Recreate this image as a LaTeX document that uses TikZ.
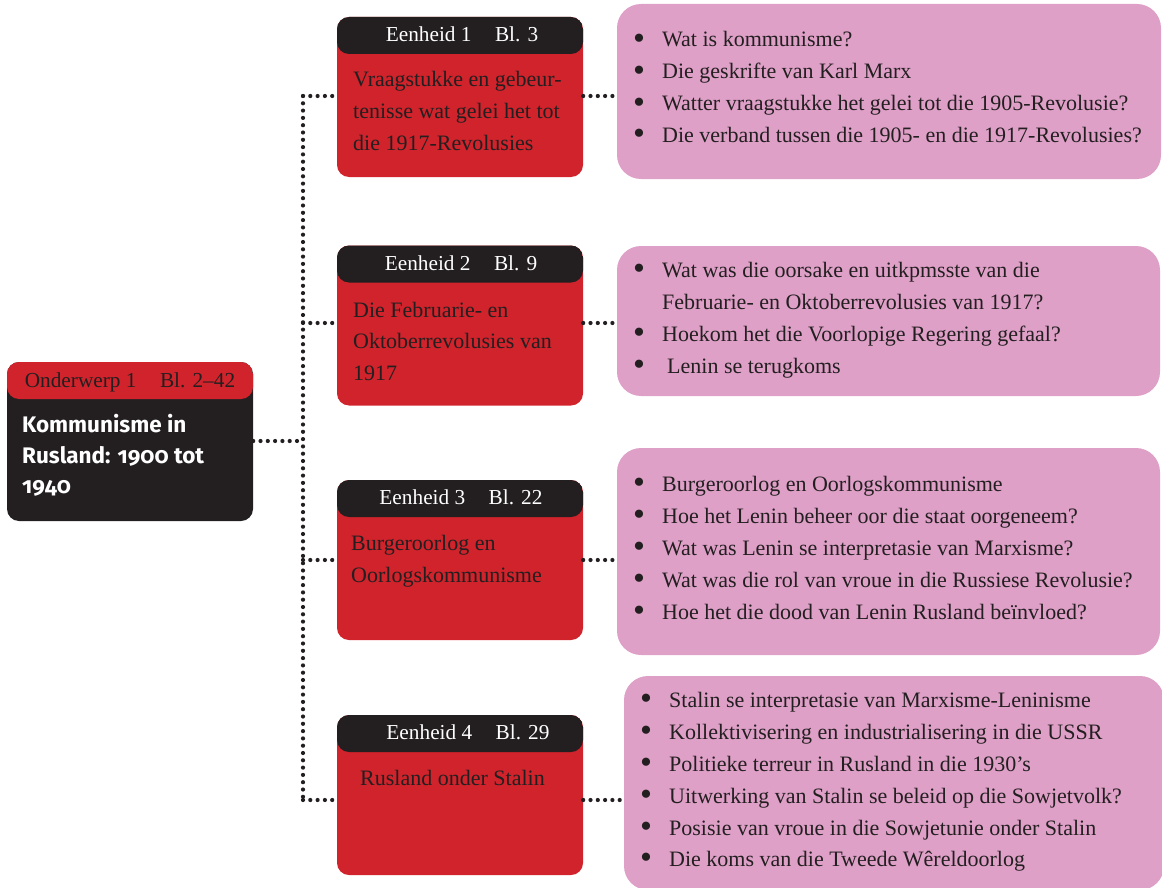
\documentclass[tikz,border=0pt]{standalone}
\usepackage{fontspec}
\usepackage{graphicx}
\setmainfont{Liberation Serif}
\newfontfamily\sansb{Fira Sans}[Numbers=OldStyle]
\usetikzlibrary{calc}
\definecolor{cred}{HTML}{D0232B}
\definecolor{cblack}{HTML}{231F20}
\definecolor{cpink}{HTML}{DFA0C8}
\newcommand\bul{\makebox[29pt][l]{\smash{\raisebox{-0.13em}{\scalebox{1.55}{\textbullet}}}}}
\begin{document}
\begin{tikzpicture}[x=1pt,y=-1pt,
  txt/.style={font=\fontsize{22}{22}\selectfont, text=cblack, inner sep=0pt, anchor=base west},
  head/.style={font=\fontsize{21.3}{21.3}\selectfont, inner sep=0pt, anchor=base},
  stxt/.style={txt, text=white, font=\sansb\bfseries\fontsize{22.5}{22.5}\selectfont},
  ubox/.style={fill=cred, rounded corners=12pt, minimum width=246pt, minimum height=160pt, inner sep=0pt,
    path picture={\fill[cblack] (path picture bounding box.north west) rectangle ([yshift=-37pt]path picture bounding box.north east);}},
  tbox/.style={fill=cblack, rounded corners=12pt, minimum width=246pt, minimum height=159pt, inner sep=0pt,
    path picture={\fill[cred] (path picture bounding box.north west) rectangle ([yshift=-37pt]path picture bounding box.north east);}},
  pbox/.style={fill=cpink, rounded corners=24pt, inner sep=0pt},
  dots/.style={draw=cblack, line width=4.2pt, line cap=round, dash pattern=on 0pt off 7.3pt}]
\useasboundingbox (0,0) rectangle (1162,888);

% main topic box
\node[tbox] (t) at (130,441.5) {};
\node[head, text=cblack] (th) at (130,387) {Onderwerp 1\hspace{1.1em}Bl. 2--42};
\node[stxt] (t1) at (22,432) {Kommunisme in};
\node[stxt] (t2) at (22,463) {Rusland: 1900 tot};
\node[stxt] (t3) at (22,493) {1940};

% unit boxes
\node[ubox] (e1) at (460,97) {};
\node[ubox] (e2) at (460,325.5) {};
\node[ubox] (e3) at (460,560) {};
\node[ubox] (e4) at (460,795) {};
\node[head, text=white] (h1) at (462,42) {Eenheid 1\hspace{1.1em}Bl. 3};
\node[head, text=white] (h2) at (461,270) {Eenheid 2\hspace{1.1em}Bl. 9};
\node[head, text=white] (h3) at (461,504) {Eenheid 3\hspace{1.1em}Bl. 22};
\node[head, text=white] (h4) at (468,739) {Eenheid 4\hspace{1.1em}Bl. 29};

\node[txt] (e1a) at (353,87) {Vraagstukke en gebeur-};
\node[txt] (e1b) at (353,119) {tenisse wat gelei het tot};
\node[txt] (e1c) at (353,150) {die 1917-Revolusies};
\node[txt] (e2a) at (353,317) {Die Februarie- en};
\node[txt] (e2b) at (353,348) {Oktoberrevolusies van};
\node[txt] (e2c) at (353,380) {1917};
\node[txt] (e3a) at (351,550) {Burgeroorlog en};
\node[txt] (e3b) at (351,582) {Oorlogskommunisme};
\node[txt] (e4a) at (360,785) {Rusland onder Stalin};

% pink boxes
\node[pbox, minimum width=544pt, minimum height=175pt] (p1) at (889,91.5) {};
\node[pbox, minimum width=543pt, minimum height=150pt] (p2) at (888.5,321) {};
\node[pbox, minimum width=543pt, minimum height=207pt] (p3) at (888.5,551.5) {};
\node[pbox, minimum width=540pt, minimum height=214pt] (p4) at (894,783) {};

\node[txt] (p1a) at (633,47) {\bul Wat is kommunisme?};
\node[txt] (p1b) at (633,78.7) {\bul Die geskrifte van Karl Marx};
\node[txt] (p1c) at (633,110.4) {\bul Watter vraagstukke het gelei tot die 1905-Revolusie?};
\node[txt] (p1d) at (633,142.1) {\bul Die verband tussen die 1905- en die 1917-Revolusies?};

\node[txt] (p2a) at (633,277) {\bul Wat was die oorsake en uitkpmsste van die};
\node[txt] (p2b) at (662,309) {Februarie- en Oktoberrevolusies van 1917?};
\node[txt] (p2c) at (633,341) {\bul Hoekom het die Voorlopige Regering gefaal?};
\node[txt] (p2d) at (633,373) {\bul\hspace{5pt}Lenin se terugkoms};

\node[txt] (p3a) at (633,491) {\bul Burgeroorlog en Oorlogskommunisme};
\node[txt] (p3b) at (633,523) {\bul Hoe het Lenin beheer oor die staat oorgeneem?};
\node[txt] (p3c) at (633,555) {\bul Wat was Lenin se interpretasie van Marxisme?};
\node[txt] (p3d) at (633,587) {\bul Wat was die rol van vroue in die Russiese Revolusie?};
\node[txt] (p3e) at (633,619) {\bul Hoe het die dood van Lenin Rusland beïnvloed?};

\node[txt] (p4a) at (640,707) {\bul Stalin se interpretasie van Marxisme-Leninisme};
\node[txt] (p4b) at (640,739) {\bul Kollektivisering en industrialisering in die USSR};
\node[txt] (p4c) at (640,771) {\bul Politieke terreur in Rusland in die 1930’s};
\node[txt] (p4d) at (640,803) {\bul Uitwerking van Stalin se beleid op die Sowjetvolk?};
\node[txt] (p4e) at (640,835) {\bul Posisie van vroue in die Sowjetunie onder Stalin};
\node[txt] (p4f) at (640,866) {\bul Die koms van die Tweede Wêreldoorlog};

% connectors
\coordinate (c0) at (303,441);
\coordinate (c1) at (303,96);
\coordinate (c2) at (303,323);
\coordinate (c3) at (303,560);
\coordinate (c4) at (303,800);
\draw[dots] (t.east |- c0) -- (c0);
\draw[dots] (c1) -- (c4);
\draw[dots] (c1) -- (c1 -| e1.west);
\draw[dots] (c2) -- (c2 -| e2.west);
\draw[dots] (c3) -- (c3 -| e3.west);
\draw[dots] (c4) -- (c4 -| e4.west);
\draw[dots] (c1 -| e1.east) -- (c1 -| p1.west);
\draw[dots] (c2 -| e2.east) -- (c2 -| p2.west);
\draw[dots] (c3 -| e3.east) -- (c3 -| p3.west);
\draw[dots] (c4 -| e4.east) -- (c4 -| p4.west);
\end{tikzpicture}
\end{document}
